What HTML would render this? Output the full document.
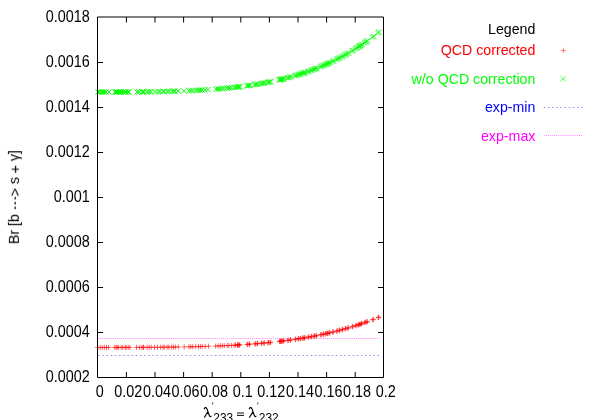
<!DOCTYPE html>
<html><head><meta charset="utf-8"><title>plot</title>
<style>
html,body{margin:0;padding:0;background:#fff;}
body{width:600px;height:420px;overflow:hidden;}
svg{display:block;}
text{font-family:"Liberation Sans",sans-serif;font-size:14.4px;fill:#000;}
.lg text{font-size:14.2px;}
</style></head><body>
<svg width="600" height="420" viewBox="0 0 600 420" style="will-change:transform">
<defs><filter id="f" x="0" y="0" width="600" height="420" filterUnits="userSpaceOnUse"><feOffset dx="0" dy="0"/></filter></defs>
<!-- exp lines -->
<line x1="98.2" y1="355.5" x2="379.5" y2="355.5" stroke="#0000ff" stroke-width="0.45" stroke-dasharray="1.45 2.72"/>
<line x1="98.2" y1="338.5" x2="379.5" y2="338.5" stroke="#ff00ff" stroke-width="0.5" stroke-dasharray="1 1.08"/>
<!-- data -->
<g stroke="#00ff00" stroke-width="0.65" fill="none"><path stroke-width="0.95" d="M95.40 89.45L100.60 94.65M95.40 94.65L100.60 89.45"/><path stroke-width="0.95" d="M97.40 89.45L102.60 94.65M97.40 94.65L102.60 89.45"/><path stroke-width="0.95" d="M99.40 89.45L104.60 94.65M99.40 94.65L104.60 89.45"/><path stroke-width="0.95" d="M101.40 89.45L106.60 94.65M101.40 94.65L106.60 89.45"/><path stroke-width="0.95" d="M103.40 89.44L108.60 94.64M103.40 94.64L108.60 89.44"/><path stroke-width="0.95" d="M106.40 89.44L111.60 94.64M106.40 94.64L111.60 89.44"/><path stroke-width="0.95" d="M112.40 89.42L117.60 94.62M112.40 94.62L117.60 89.42"/><path stroke-width="0.95" d="M113.40 89.42L118.60 94.62M113.40 94.62L118.60 89.42"/><path stroke-width="0.95" d="M114.40 89.41L119.60 94.61M114.40 94.61L119.60 89.41"/><path stroke-width="0.95" d="M116.40 89.41L121.60 94.61M116.40 94.61L121.60 89.41"/><path stroke-width="0.95" d="M118.40 89.40L123.60 94.60M118.40 94.60L123.60 89.40"/><path stroke-width="0.95" d="M120.40 89.39L125.60 94.59M120.40 94.59L125.60 89.39"/><path stroke-width="0.95" d="M122.40 89.37L127.60 94.57M122.40 94.57L127.60 89.37"/><path stroke-width="0.95" d="M123.40 89.37L128.60 94.57M123.40 94.57L128.60 89.37"/><path stroke-width="0.95" d="M125.40 89.36L130.60 94.56M125.40 94.56L130.60 89.36"/><path stroke-width="0.95" d="M126.40 89.35L131.60 94.55M126.40 94.55L131.60 89.35"/><path stroke-width="0.95" d="M134.40 89.28L139.60 94.48M134.40 94.48L139.60 89.28"/><path stroke-width="0.95" d="M136.40 89.26L141.60 94.46M136.40 94.46L141.60 89.26"/><path stroke-width="0.95" d="M139.40 89.23L144.60 94.43M139.40 94.43L144.60 89.23"/><path stroke-width="0.95" d="M140.40 89.22L145.60 94.42M140.40 94.42L145.60 89.22"/><path stroke-width="0.95" d="M141.40 89.21L146.60 94.41M141.40 94.41L146.60 89.21"/><path stroke-width="0.95" d="M144.40 89.17L149.60 94.37M144.40 94.37L149.60 89.17"/><path stroke-width="0.95" d="M146.40 89.14L151.60 94.34M146.40 94.34L151.60 89.14"/><path stroke-width="0.95" d="M148.40 89.11L153.60 94.31M148.40 94.31L153.60 89.11"/><path stroke-width="0.95" d="M152.40 89.05L157.60 94.25M152.40 94.25L157.60 89.05"/><path stroke-width="0.95" d="M155.40 89.00L160.60 94.20M155.40 94.20L160.60 89.00"/><path stroke-width="0.95" d="M157.40 88.96L162.60 94.16M157.40 94.16L162.60 88.96"/><path stroke-width="0.95" d="M160.40 88.90L165.60 94.10M160.40 94.10L165.60 88.90"/><path stroke-width="0.95" d="M161.40 88.87L166.60 94.07M161.40 94.07L166.60 88.87"/><path stroke-width="0.95" d="M164.40 88.80L169.60 94.00M164.40 94.00L169.60 88.80"/><path stroke-width="0.95" d="M166.40 88.75L171.60 93.95M166.40 93.95L171.60 88.75"/><path stroke-width="0.95" d="M169.40 88.67L174.60 93.87M169.40 93.87L174.60 88.67"/><path stroke-width="0.95" d="M171.40 88.62L176.60 93.82M171.40 93.82L176.60 88.62"/><path stroke-width="0.95" d="M172.40 88.59L177.60 93.79M172.40 93.79L177.60 88.59"/><path stroke-width="0.95" d="M175.40 88.49L180.60 93.69M175.40 93.69L180.60 88.49"/><path stroke-width="0.95" d="M181.40 88.28L186.60 93.48M181.40 93.48L186.60 88.28"/><path stroke-width="0.95" d="M186.40 88.08L191.60 93.28M186.40 93.28L191.60 88.08"/><path stroke-width="0.95" d="M188.40 88.00L193.60 93.20M188.40 93.20L193.60 88.00"/><path stroke-width="0.95" d="M190.40 87.90L195.60 93.10M190.40 93.10L195.60 87.90"/><path stroke-width="0.95" d="M193.40 87.76L198.60 92.96M193.40 92.96L198.60 87.76"/><path stroke-width="0.95" d="M195.40 87.65L200.60 92.85M195.40 92.85L200.60 87.65"/><path stroke-width="0.95" d="M197.40 87.55L202.60 92.75M197.40 92.75L202.60 87.55"/><path stroke-width="0.95" d="M199.40 87.43L204.60 92.63M199.40 92.63L204.60 87.43"/><path stroke-width="0.95" d="M202.40 87.26L207.60 92.46M202.40 92.46L207.60 87.26"/><path stroke-width="0.95" d="M205.40 87.06L210.60 92.26M205.40 92.26L210.60 87.06"/><path stroke-width="0.95" d="M213.40 86.49L218.60 91.69M213.40 91.69L218.60 86.49"/><path stroke-width="0.95" d="M215.40 86.33L220.60 91.53M215.40 91.53L220.60 86.33"/><path stroke-width="0.95" d="M217.40 86.17L222.60 91.37M217.40 91.37L222.60 86.17"/><path stroke-width="0.95" d="M219.40 86.00L224.60 91.20M219.40 91.20L224.60 86.00"/><path stroke-width="0.95" d="M221.40 85.82L226.60 91.02M221.40 91.02L226.60 85.82"/><path stroke-width="0.95" d="M224.40 85.53L229.60 90.73M224.40 90.73L229.60 85.53"/><path stroke-width="0.95" d="M226.40 85.34L231.60 90.54M226.40 90.54L231.60 85.34"/><path stroke-width="0.95" d="M228.40 85.13L233.60 90.33M228.40 90.33L233.60 85.13"/><path stroke-width="0.95" d="M231.40 84.81L236.60 90.01M231.40 90.01L236.60 84.81"/><path stroke-width="0.95" d="M233.40 84.58L238.60 89.78M233.40 89.78L238.60 84.58"/><path d="M234.55 84.45L239.75 89.65M234.55 89.65L239.75 84.45"/><path d="M235.40 84.35L240.60 89.55M235.40 89.55L240.60 84.35"/><path d="M236.25 84.25L241.45 89.45M236.25 89.45L241.45 84.25"/><path d="M236.05 84.27L241.25 89.47M236.05 89.47L241.25 84.27"/><path d="M236.90 84.17L242.10 89.37M236.90 89.37L242.10 84.17"/><path d="M237.75 84.06L242.95 89.26M237.75 89.26L242.95 84.06"/><path d="M243.95 83.25L249.15 88.45M243.95 88.45L249.15 83.25"/><path d="M244.80 83.13L250.00 88.33M244.80 88.33L250.00 83.13"/><path d="M245.65 83.01L250.85 88.21M245.65 88.21L250.85 83.01"/><path d="M246.05 82.95L251.25 88.15M246.05 88.15L251.25 82.95"/><path d="M246.90 82.83L252.10 88.03M246.90 88.03L252.10 82.83"/><path d="M247.75 82.71L252.95 87.91M247.75 87.91L252.95 82.71"/><path d="M251.85 82.08L257.05 87.28M251.85 87.28L257.05 82.08"/><path d="M252.70 81.94L257.90 87.14M252.70 87.14L257.90 81.94"/><path d="M253.55 81.80L258.75 87.00M253.55 87.00L258.75 81.80"/><path d="M253.95 81.74L259.15 86.94M253.95 86.94L259.15 81.74"/><path d="M254.80 81.60L260.00 86.80M254.80 86.80L260.00 81.60"/><path d="M255.65 81.46L260.85 86.66M255.65 86.66L260.85 81.46"/><path d="M258.15 81.03L263.35 86.23M258.15 86.23L263.35 81.03"/><path d="M259.00 80.87L264.20 86.07M259.00 86.07L264.20 80.87"/><path d="M259.85 80.72L265.05 85.92M259.85 85.92L265.05 80.72"/><path d="M260.65 80.58L265.85 85.78M260.65 85.78L265.85 80.58"/><path d="M261.50 80.42L266.70 85.62M261.50 85.62L266.70 80.42"/><path d="M262.35 80.26L267.55 85.46M262.35 85.46L267.55 80.26"/><path d="M264.80 79.79L270.00 84.99M264.80 84.99L270.00 79.79"/><path d="M265.65 79.62L270.85 84.82M265.65 84.82L270.85 79.62"/><path d="M266.50 79.45L271.70 84.65M266.50 84.65L271.70 79.45"/><path d="M266.85 79.38L272.05 84.58M266.85 84.58L272.05 79.38"/><path d="M267.70 79.21L272.90 84.41M267.70 84.41L272.90 79.21"/><path d="M268.55 79.03L273.75 84.23M268.55 84.23L273.75 79.03"/><path d="M276.45 77.29L281.65 82.49M276.45 82.49L281.65 77.29"/><path d="M277.30 77.09L282.50 82.29M277.30 82.29L282.50 77.09"/><path d="M278.15 76.89L283.35 82.09M278.15 82.09L283.35 76.89"/><path d="M277.15 77.13L282.35 82.33M277.15 82.33L282.35 77.13"/><path d="M278.00 76.92L283.20 82.12M278.00 82.12L283.20 76.92"/><path d="M278.85 76.72L284.05 81.92M278.85 81.92L284.05 76.72"/><path d="M278.55 76.79L283.75 81.99M278.55 81.99L283.75 76.79"/><path d="M279.40 76.59L284.60 81.79M279.40 81.79L284.60 76.59"/><path d="M280.25 76.38L285.45 81.58M280.25 81.58L285.45 76.38"/><path d="M280.05 76.43L285.25 81.63M280.05 81.63L285.25 76.43"/><path d="M280.90 76.21L286.10 81.41M280.90 81.41L286.10 76.21"/><path d="M281.75 76.00L286.95 81.20M281.75 81.20L286.95 76.00"/><path d="M284.55 75.28L289.75 80.48M284.55 80.48L289.75 75.28"/><path d="M285.40 75.05L290.60 80.25M285.40 80.25L290.60 75.05"/><path d="M286.25 74.82L291.45 80.02M286.25 80.02L291.45 74.82"/><path d="M287.05 74.61L292.25 79.81M287.05 79.81L292.25 74.61"/><path d="M287.90 74.37L293.10 79.57M287.90 79.57L293.10 74.37"/><path d="M288.75 74.14L293.95 79.34M288.75 79.34L293.95 74.14"/><path d="M292.05 73.19L297.25 78.39M292.05 78.39L297.25 73.19"/><path d="M292.90 72.94L298.10 78.14M292.90 78.14L298.10 72.94"/><path d="M293.75 72.69L298.95 77.89M293.75 77.89L298.95 72.69"/><path d="M294.95 72.32L300.15 77.52M294.95 77.52L300.15 72.32"/><path d="M295.80 72.06L301.00 77.26M295.80 77.26L301.00 72.06"/><path d="M296.65 71.80L301.85 77.00M296.65 77.00L301.85 71.80"/><path d="M297.05 71.67L302.25 76.87M297.05 76.87L302.25 71.67"/><path d="M297.90 71.41L303.10 76.61M297.90 76.61L303.10 71.41"/><path d="M298.75 71.13L303.95 76.33M298.75 76.33L303.95 71.13"/><path d="M299.55 70.88L304.75 76.08M299.55 76.08L304.75 70.88"/><path d="M300.40 70.60L305.60 75.80M300.40 75.80L305.60 70.60"/><path d="M301.25 70.32L306.45 75.52M301.25 75.52L306.45 70.32"/><path d="M301.25 70.32L306.45 75.52M301.25 75.52L306.45 70.32"/><path d="M302.10 70.03L307.30 75.23M302.10 75.23L307.30 70.03"/><path d="M302.95 69.75L308.15 74.95M302.95 74.95L308.15 69.75"/><path d="M304.95 69.06L310.15 74.26M304.95 74.26L310.15 69.06"/><path d="M305.80 68.76L311.00 73.96M305.80 73.96L311.00 68.76"/><path d="M306.65 68.46L311.85 73.66M306.65 73.66L311.85 68.46"/><path d="M307.85 68.02L313.05 73.22M307.85 73.22L313.05 68.02"/><path d="M308.70 67.71L313.90 72.91M308.70 72.91L313.90 67.71"/><path d="M309.55 67.40L314.75 72.60M309.55 72.60L314.75 67.40"/><path d="M310.80 66.93L316.00 72.13M310.80 72.13L316.00 66.93"/><path d="M311.65 66.61L316.85 71.81M311.65 71.81L316.85 66.61"/><path d="M312.50 66.29L317.70 71.49M312.50 71.49L317.70 66.29"/><path d="M312.85 66.15L318.05 71.35M312.85 71.35L318.05 66.15"/><path d="M313.70 65.82L318.90 71.02M313.70 71.02L318.90 65.82"/><path d="M314.55 65.49L319.75 70.69M314.55 70.69L319.75 65.49"/><path d="M317.45 64.32L322.65 69.52M317.45 69.52L322.65 64.32"/><path d="M318.30 63.97L323.50 69.17M318.30 69.17L323.50 63.97"/><path d="M319.15 63.61L324.35 68.81M319.15 68.81L324.35 63.61"/><path d="M319.95 63.28L325.15 68.48M319.95 68.48L325.15 63.28"/><path d="M320.80 62.91L326.00 68.11M320.80 68.11L326.00 62.91"/><path d="M321.65 62.55L326.85 67.75M321.65 67.75L326.85 62.55"/><path d="M322.45 62.20L327.65 67.40M322.45 67.40L327.65 62.20"/><path d="M323.30 61.83L328.50 67.03M323.30 67.03L328.50 61.83"/><path d="M324.15 61.45L329.35 66.65M324.15 66.65L329.35 61.45"/><path d="M324.15 61.45L329.35 66.65M324.15 66.65L329.35 61.45"/><path d="M325.00 61.07L330.20 66.27M325.00 66.27L330.20 61.07"/><path d="M325.85 60.69L331.05 65.89M325.85 65.89L331.05 60.69"/><path d="M326.05 60.60L331.25 65.80M326.05 65.80L331.25 60.60"/><path d="M326.90 60.21L332.10 65.41M326.90 65.41L332.10 60.21"/><path d="M327.75 59.81L332.95 65.01M327.75 65.01L332.95 59.81"/><path d="M329.55 58.96L334.75 64.16M329.55 64.16L334.75 58.96"/><path d="M330.40 58.56L335.60 63.76M330.40 63.76L335.60 58.56"/><path d="M331.25 58.15L336.45 63.35M331.25 63.35L336.45 58.15"/><path d="M333.55 57.01L338.75 62.21M333.55 62.21L338.75 57.01"/><path d="M334.40 56.59L339.60 61.79M334.40 61.79L339.60 56.59"/><path d="M335.25 56.16L340.45 61.36M335.25 61.36L340.45 56.16"/><path d="M336.05 55.75L341.25 60.95M336.05 60.95L341.25 55.75"/><path d="M336.90 55.31L342.10 60.51M336.90 60.51L342.10 55.31"/><path d="M337.75 54.87L342.95 60.07M337.75 60.07L342.95 54.87"/><path d="M339.05 54.18L344.25 59.38M339.05 59.38L344.25 54.18"/><path d="M339.90 53.72L345.10 58.92M339.90 58.92L345.10 53.72"/><path d="M340.75 53.26L345.95 58.46M340.75 58.46L345.95 53.26"/><path d="M342.05 52.55L347.25 57.75M342.05 57.75L347.25 52.55"/><path d="M342.90 52.08L348.10 57.28M342.90 57.28L348.10 52.08"/><path d="M343.75 51.61L348.95 56.81M343.75 56.81L348.95 51.61"/><path d="M344.55 51.16L349.75 56.36M344.55 56.36L349.75 51.16"/><path d="M345.40 50.67L350.60 55.87M345.40 55.87L350.60 50.67"/><path d="M346.25 50.18L351.45 55.38M346.25 55.38L351.45 50.18"/><path d="M349.05 48.54L354.25 53.74M349.05 53.74L354.25 48.54"/><path d="M349.90 48.03L355.10 53.23M349.90 53.23L355.10 48.03"/><path d="M350.75 47.52L355.95 52.72M350.75 52.72L355.95 47.52"/><path d="M352.55 46.41L357.75 51.61M352.55 51.61L357.75 46.41"/><path d="M353.40 45.88L358.60 51.08M353.40 51.08L358.60 45.88"/><path d="M354.25 45.35L359.45 50.55M354.25 50.55L359.45 45.35"/><path d="M355.05 44.84L360.25 50.04M355.05 50.04L360.25 44.84"/><path d="M355.90 44.29L361.10 49.49M355.90 49.49L361.10 44.29"/><path d="M356.75 43.74L361.95 48.94M356.75 48.94L361.95 43.74"/><path d="M356.55 43.87L361.75 49.07M356.55 49.07L361.75 43.87"/><path d="M357.40 43.32L362.60 48.52M357.40 48.52L362.60 43.32"/><path d="M358.25 42.76L363.45 47.96M358.25 47.96L363.45 42.76"/><path d="M358.05 42.89L363.25 48.09M358.05 48.09L363.25 42.89"/><path d="M358.90 42.33L364.10 47.53M358.90 47.53L364.10 42.33"/><path d="M359.75 41.76L364.95 46.96M359.75 46.96L364.95 41.76"/><path d="M361.55 40.55L366.75 45.75M361.55 45.75L366.75 40.55"/><path d="M362.40 39.96L367.60 45.16M362.40 45.16L367.60 39.96"/><path d="M363.25 39.37L368.45 44.57M363.25 44.57L368.45 39.37"/><path d="M363.55 39.16L368.75 44.36M363.55 44.36L368.75 39.16"/><path d="M364.40 38.57L369.60 43.77M364.40 43.77L369.60 38.57"/><path d="M365.25 37.96L370.45 43.16M365.25 43.16L370.45 37.96"/><path d="M369.55 34.84L374.75 40.04M369.55 40.04L374.75 34.84"/><path d="M370.40 34.20L375.60 39.40M370.40 39.40L375.60 34.20"/><path d="M371.25 33.56L376.45 38.76M371.25 38.76L376.45 33.56"/><path d="M375.05 30.62L380.25 35.82M375.05 35.82L380.25 30.62"/><path d="M375.90 29.95L381.10 35.15M375.90 35.15L381.10 29.95"/><path d="M376.75 29.27L381.95 34.47M376.75 34.47L381.95 29.27"/></g>
<g stroke="#ff0000" stroke-width="0.45" fill="none"><path d="M235.05 345.25H240.25M237.65 342.65V347.85"/><path d="M235.40 345.00H240.60M238.00 342.40V347.60"/><path d="M235.75 344.75H240.95M238.35 342.15V347.35"/><path d="M236.55 345.16H241.75M239.15 342.56V347.76"/><path d="M236.90 344.91H242.10M239.50 342.31V347.51"/><path d="M237.25 344.66H242.45M239.85 342.06V347.26"/><path d="M244.45 344.65H249.65M247.05 342.05V347.25"/><path d="M244.80 344.40H250.00M247.40 341.80V347.00"/><path d="M245.15 344.15H250.35M247.75 341.55V346.75"/><path d="M246.55 344.50H251.75M249.15 341.90V347.10"/><path d="M246.90 344.25H252.10M249.50 341.65V346.85"/><path d="M247.25 344.00H252.45M249.85 341.40V346.60"/><path d="M252.35 344.06H257.55M254.95 341.46V346.66"/><path d="M252.70 343.81H257.90M255.30 341.21V346.41"/><path d="M253.05 343.56H258.25M255.65 340.96V346.16"/><path d="M254.45 343.88H259.65M257.05 341.28V346.48"/><path d="M254.80 343.63H260.00M257.40 341.03V346.23"/><path d="M255.15 343.38H260.35M257.75 340.78V345.98"/><path d="M258.65 343.52H263.85M261.25 340.92V346.12"/><path d="M259.00 343.27H264.20M261.60 340.67V345.87"/><path d="M259.35 343.02H264.55M261.95 340.42V345.62"/><path d="M261.15 343.30H266.35M263.75 340.70V345.90"/><path d="M261.50 343.05H266.70M264.10 340.45V345.65"/><path d="M261.85 342.80H267.05M264.45 340.20V345.40"/><path d="M265.30 342.90H270.50M267.90 340.30V345.50"/><path d="M265.65 342.65H270.85M268.25 340.05V345.25"/><path d="M266.00 342.40H271.20M268.60 339.80V345.00"/><path d="M267.35 342.69H272.55M269.95 340.09V345.29"/><path d="M267.70 342.44H272.90M270.30 339.84V345.04"/><path d="M268.05 342.19H273.25M270.65 339.59V344.79"/><path d="M276.95 341.63H282.15M279.55 339.03V344.23"/><path d="M277.30 341.38H282.50M279.90 338.78V343.98"/><path d="M277.65 341.13H282.85M280.25 338.53V343.73"/><path d="M277.65 341.54H282.85M280.25 338.94V344.14"/><path d="M278.00 341.29H283.20M280.60 338.69V343.89"/><path d="M278.35 341.04H283.55M280.95 338.44V343.64"/><path d="M279.05 341.37H284.25M281.65 338.77V343.97"/><path d="M279.40 341.12H284.60M282.00 338.52V343.72"/><path d="M279.75 340.87H284.95M282.35 338.27V343.47"/><path d="M280.55 341.18H285.75M283.15 338.58V343.78"/><path d="M280.90 340.93H286.10M283.50 338.33V343.53"/><path d="M281.25 340.68H286.45M283.85 338.08V343.28"/><path d="M285.05 340.60H290.25M287.65 338.00V343.20"/><path d="M285.40 340.35H290.60M288.00 337.75V342.95"/><path d="M285.75 340.10H290.95M288.35 337.50V342.70"/><path d="M287.55 340.26H292.75M290.15 337.66V342.86"/><path d="M287.90 340.01H293.10M290.50 337.41V342.61"/><path d="M288.25 339.76H293.45M290.85 337.16V342.36"/><path d="M292.55 339.53H297.75M295.15 336.93V342.13"/><path d="M292.90 339.28H298.10M295.50 336.68V341.88"/><path d="M293.25 339.03H298.45M295.85 336.43V341.63"/><path d="M295.45 339.09H300.65M298.05 336.49V341.69"/><path d="M295.80 338.84H301.00M298.40 336.24V341.44"/><path d="M296.15 338.59H301.35M298.75 335.99V341.19"/><path d="M297.55 338.76H302.75M300.15 336.16V341.36"/><path d="M297.90 338.51H303.10M300.50 335.91V341.11"/><path d="M298.25 338.26H303.45M300.85 335.66V340.86"/><path d="M300.05 338.35H305.25M302.65 335.75V340.95"/><path d="M300.40 338.10H305.60M303.00 335.50V340.70"/><path d="M300.75 337.85H305.95M303.35 335.25V340.45"/><path d="M301.75 338.06H306.95M304.35 335.46V340.66"/><path d="M302.10 337.81H307.30M304.70 335.21V340.41"/><path d="M302.45 337.56H307.65M305.05 334.96V340.16"/><path d="M305.45 337.42H310.65M308.05 334.82V340.02"/><path d="M305.80 337.17H311.00M308.40 334.57V339.77"/><path d="M306.15 336.92H311.35M308.75 334.32V339.52"/><path d="M308.35 336.89H313.55M310.95 334.29V339.49"/><path d="M308.70 336.64H313.90M311.30 334.04V339.24"/><path d="M309.05 336.39H314.25M311.65 333.79V338.99"/><path d="M311.30 336.33H316.50M313.90 333.73V338.93"/><path d="M311.65 336.08H316.85M314.25 333.48V338.68"/><path d="M312.00 335.83H317.20M314.60 333.23V338.43"/><path d="M313.35 335.93H318.55M315.95 333.33V338.53"/><path d="M313.70 335.68H318.90M316.30 333.08V338.28"/><path d="M314.05 335.43H319.25M316.65 332.83V338.03"/><path d="M317.95 334.99H323.15M320.55 332.39V337.59"/><path d="M318.30 334.74H323.50M320.90 332.14V337.34"/><path d="M318.65 334.49H323.85M321.25 331.89V337.09"/><path d="M320.45 334.46H325.65M323.05 331.86V337.06"/><path d="M320.80 334.21H326.00M323.40 331.61V336.81"/><path d="M321.15 333.96H326.35M323.75 331.36V336.56"/><path d="M322.95 333.91H328.15M325.55 331.31V336.51"/><path d="M323.30 333.66H328.50M325.90 331.06V336.26"/><path d="M323.65 333.41H328.85M326.25 330.81V336.01"/><path d="M324.65 333.52H329.85M327.25 330.92V336.12"/><path d="M325.00 333.27H330.20M327.60 330.67V335.87"/><path d="M325.35 333.02H330.55M327.95 330.42V335.62"/><path d="M326.55 333.08H331.75M329.15 330.48V335.68"/><path d="M326.90 332.83H332.10M329.50 330.23V335.43"/><path d="M327.25 332.58H332.45M329.85 329.98V335.18"/><path d="M330.05 332.24H335.25M332.65 329.64V334.84"/><path d="M330.40 331.99H335.60M333.00 329.39V334.59"/><path d="M330.75 331.74H335.95M333.35 329.14V334.34"/><path d="M334.05 331.24H339.25M336.65 328.64V333.84"/><path d="M334.40 330.99H339.60M337.00 328.39V333.59"/><path d="M334.75 330.74H339.95M337.35 328.14V333.34"/><path d="M336.55 330.59H341.75M339.15 327.99V333.19"/><path d="M336.90 330.34H342.10M339.50 327.74V332.94"/><path d="M337.25 330.09H342.45M339.85 327.49V332.69"/><path d="M339.55 329.78H344.75M342.15 327.18V332.38"/><path d="M339.90 329.53H345.10M342.50 326.93V332.13"/><path d="M340.25 329.28H345.45M342.85 326.68V331.88"/><path d="M342.55 328.95H347.75M345.15 326.35V331.55"/><path d="M342.90 328.70H348.10M345.50 326.10V331.30"/><path d="M343.25 328.45H348.45M345.85 325.85V331.05"/><path d="M345.05 328.23H350.25M347.65 325.63V330.83"/><path d="M345.40 327.98H350.60M348.00 325.38V330.58"/><path d="M345.75 327.73H350.95M348.35 325.13V330.33"/><path d="M349.55 326.88H354.75M352.15 324.28V329.48"/><path d="M349.90 326.63H355.10M352.50 324.03V329.23"/><path d="M350.25 326.38H355.45M352.85 323.78V328.98"/><path d="M353.05 325.79H358.25M355.65 323.19V328.39"/><path d="M353.40 325.54H358.60M356.00 322.94V328.14"/><path d="M353.75 325.29H358.95M356.35 322.69V327.89"/><path d="M355.55 324.98H360.75M358.15 322.38V327.58"/><path d="M355.90 324.73H361.10M358.50 322.13V327.33"/><path d="M356.25 324.48H361.45M358.85 321.88V327.08"/><path d="M357.05 324.48H362.25M359.65 321.88V327.08"/><path d="M357.40 324.23H362.60M360.00 321.63V326.83"/><path d="M357.75 323.98H362.95M360.35 321.38V326.58"/><path d="M358.55 323.98H363.75M361.15 321.38V326.58"/><path d="M358.90 323.73H364.10M361.50 321.13V326.33"/><path d="M359.25 323.48H364.45M361.85 320.88V326.08"/><path d="M362.05 322.77H367.25M364.65 320.17V325.37"/><path d="M362.40 322.52H367.60M365.00 319.92V325.12"/><path d="M362.75 322.27H367.95M365.35 319.67V324.87"/><path d="M364.05 322.06H369.25M366.65 319.46V324.66"/><path d="M364.40 321.81H369.60M367.00 319.21V324.41"/><path d="M364.75 321.56H369.95M367.35 318.96V324.16"/><path d="M370.05 319.83H375.25M372.65 317.23V322.43"/><path d="M370.40 319.58H375.60M373.00 316.98V322.18"/><path d="M370.75 319.33H375.95M373.35 316.73V321.93"/><path d="M375.55 317.66H380.75M378.15 315.06V320.26"/><path d="M375.90 317.41H381.10M378.50 314.81V320.01"/><path d="M376.25 317.16H381.45M378.85 314.56V319.76"/><path stroke-width="0.6" d="M95.15 347.45H100.35M97.75 344.85V350.05"/><path stroke-width="0.6" d="M97.65 347.45H102.85M100.25 344.85V350.05"/><path stroke-width="0.6" d="M99.73 347.45H104.92M102.33 344.85V350.05"/><path stroke-width="0.6" d="M101.80 347.45H107.00M104.40 344.85V350.05"/><path stroke-width="0.6" d="M103.90 347.45H109.10M106.50 344.85V350.05"/><path stroke-width="0.6" d="M106.00 347.45H111.20M108.60 344.85V350.05"/><path stroke-width="0.6" d="M112.20 347.44H117.40M114.80 344.84V350.04"/><path stroke-width="0.6" d="M113.50 347.44H118.70M116.10 344.84V350.04"/><path stroke-width="0.6" d="M114.70 347.43H119.90M117.30 344.83V350.03"/><path stroke-width="0.6" d="M116.00 347.43H121.20M118.60 344.83V350.03"/><path stroke-width="0.6" d="M118.50 347.43H123.70M121.10 344.83V350.03"/><path stroke-width="0.6" d="M120.15 347.42H125.35M122.75 344.82V350.02"/><path stroke-width="0.6" d="M122.65 347.42H127.85M125.25 344.82V350.02"/><path stroke-width="0.6" d="M123.50 347.42H128.70M126.10 344.82V350.02"/><path stroke-width="0.6" d="M125.60 347.41H130.80M128.20 344.81V350.01"/><path stroke-width="0.6" d="M127.20 347.41H132.40M129.80 344.81V350.01"/><path stroke-width="0.6" d="M133.90 347.38H139.10M136.50 344.78V349.98"/><path stroke-width="0.6" d="M136.80 347.37H142.00M139.40 344.77V349.97"/><path stroke-width="0.6" d="M139.30 347.36H144.50M141.90 344.76V349.96"/><path stroke-width="0.6" d="M140.60 347.35H145.80M143.20 344.75V349.95"/><path stroke-width="0.6" d="M141.15 347.35H146.35M143.75 344.75V349.95"/><path stroke-width="0.6" d="M144.50 347.33H149.70M147.10 344.73V349.93"/><path stroke-width="0.6" d="M146.58 347.32H151.78M149.18 344.72V349.92"/><path stroke-width="0.6" d="M148.65 347.30H153.85M151.25 344.70V349.90"/><path stroke-width="0.6" d="M152.00 347.28H157.20M154.60 344.68V349.88"/><path stroke-width="0.6" d="M154.90 347.26H160.10M157.50 344.66V349.86"/><path stroke-width="0.6" d="M157.80 347.23H163.00M160.40 344.63V349.83"/><path stroke-width="0.6" d="M160.30 347.21H165.50M162.90 344.61V349.81"/><path stroke-width="0.6" d="M161.60 347.19H166.80M164.20 344.59V349.79"/><path stroke-width="0.6" d="M164.50 347.16H169.70M167.10 344.56V349.76"/><path stroke-width="0.6" d="M166.15 347.14H171.35M168.75 344.54V349.74"/><path stroke-width="0.6" d="M169.10 347.11H174.30M171.70 344.51V349.71"/><path stroke-width="0.6" d="M170.95 347.08H176.15M173.55 344.48V349.68"/><path stroke-width="0.6" d="M172.80 347.06H178.00M175.40 344.46V349.66"/><path stroke-width="0.6" d="M175.70 347.01H180.90M178.30 344.41V349.61"/><path stroke-width="0.6" d="M181.60 346.92H186.80M184.20 344.32V349.52"/><path stroke-width="0.6" d="M186.30 346.83H191.50M188.90 344.23V349.43"/><path stroke-width="0.6" d="M188.20 346.79H193.40M190.80 344.19V349.39"/><path stroke-width="0.6" d="M190.10 346.75H195.30M192.70 344.15V349.35"/><path stroke-width="0.6" d="M193.00 346.68H198.20M195.60 344.08V349.28"/><path stroke-width="0.6" d="M195.90 346.61H201.10M198.50 344.01V349.21"/><path stroke-width="0.6" d="M197.78 346.56H202.97M200.38 343.96V349.16"/><path stroke-width="0.6" d="M199.65 346.51H204.85M202.25 343.91V349.11"/><path stroke-width="0.6" d="M202.60 346.42H207.80M205.20 343.82V349.02"/><path stroke-width="0.6" d="M205.90 346.32H211.10M208.50 343.72V348.92"/><path stroke-width="0.6" d="M213.00 346.07H218.20M215.60 343.47V348.67"/><path stroke-width="0.6" d="M215.50 345.97H220.70M218.10 343.37V348.57"/><path stroke-width="0.6" d="M217.60 345.89H222.80M220.20 343.29V348.49"/><path stroke-width="0.6" d="M219.65 345.80H224.85M222.25 343.20V348.40"/><path stroke-width="0.6" d="M221.70 345.71H226.90M224.30 343.11V348.31"/><path stroke-width="0.6" d="M224.65 345.57H229.85M227.25 342.97V348.17"/><path stroke-width="0.6" d="M226.30 345.49H231.50M228.90 342.89V348.09"/><path stroke-width="0.6" d="M228.80 345.37H234.00M231.40 342.77V347.97"/><path stroke-width="0.6" d="M231.70 345.21H236.90M234.30 342.61V347.81"/><path stroke-width="0.6" d="M232.90 345.15H238.10M235.50 342.55V347.75"/><path stroke-width="0.6" d="M234.90 345.03H240.10M237.50 342.43V347.63"/></g>
<!-- axes -->
<path d="M126.40 377.5V372.0M126.40 17.0V22.5M155.00 377.5V372.0M155.00 17.0V22.5M183.60 377.5V372.0M183.60 17.0V22.5M212.20 377.5V372.0M212.20 17.0V22.5M240.80 377.5V372.0M240.80 17.0V22.5M269.40 377.5V372.0M269.40 17.0V22.5M298.00 377.5V372.0M298.00 17.0V22.5M326.60 377.5V372.0M326.60 17.0V22.5M355.20 377.5V372.0M355.20 17.0V22.5M97.5 62.50H103.0M383.5 62.50H378.0M97.5 107.50H103.0M383.5 107.50H378.0M97.5 152.50H103.0M383.5 152.50H378.0M97.5 197.50H103.0M383.5 197.50H378.0M97.5 242.50H103.0M383.5 242.50H378.0M97.5 287.50H103.0M383.5 287.50H378.0M97.5 332.50H103.0M383.5 332.50H378.0" stroke="#000" stroke-width="1" fill="none"/>
<path d="M97.5 17.0H383.5V377.5H97.5Z" stroke="#000" stroke-width="1" fill="none"/>
<g filter="url(#f)">
<g><text transform="translate(89.7 21.95) scale(1 1.10)" text-anchor="end">0.0018</text><text transform="translate(89.7 67.01) scale(1 1.10)" text-anchor="end">0.0016</text><text transform="translate(89.7 112.08) scale(1 1.10)" text-anchor="end">0.0014</text><text transform="translate(89.7 157.14) scale(1 1.10)" text-anchor="end">0.0012</text><text transform="translate(89.7 202.20) scale(1 1.10)" text-anchor="end">0.001</text><text transform="translate(89.7 247.26) scale(1 1.10)" text-anchor="end">0.0008</text><text transform="translate(89.7 292.32) scale(1 1.10)" text-anchor="end">0.0006</text><text transform="translate(89.7 337.39) scale(1 1.10)" text-anchor="end">0.0004</text><text transform="translate(89.7 382.45) scale(1 1.10)" text-anchor="end">0.0002</text></g>
<g><text transform="translate(99.70 396.8) scale(1 1.10)" text-anchor="middle">0</text><text transform="translate(128.30 396.8) scale(1 1.10)" text-anchor="middle">0.02</text><text transform="translate(156.90 396.8) scale(1 1.10)" text-anchor="middle">0.04</text><text transform="translate(185.50 396.8) scale(1 1.10)" text-anchor="middle">0.06</text><text transform="translate(214.10 396.8) scale(1 1.10)" text-anchor="middle">0.08</text><text transform="translate(242.70 396.8) scale(1 1.10)" text-anchor="middle">0.1</text><text transform="translate(271.30 396.8) scale(1 1.10)" text-anchor="middle">0.12</text><text transform="translate(299.90 396.8) scale(1 1.10)" text-anchor="middle">0.14</text><text transform="translate(328.50 396.8) scale(1 1.10)" text-anchor="middle">0.16</text><text transform="translate(357.10 396.8) scale(1 1.10)" text-anchor="middle">0.18</text><text transform="translate(385.70 396.8) scale(1 1.10)" text-anchor="middle">0.2</text></g>
<text transform="translate(18.9 197.2) rotate(-90)" text-anchor="middle" style="letter-spacing:-0.12px">Br [b <tspan fill="none">---</tspan><tspan dy="1.3">&gt;</tspan><tspan dy="-1.3"> s </tspan><tspan dy="1.3">+</tspan><tspan dy="-1.3"> γ]</tspan></text>
<!-- x label -->
<text x="213.3" y="422.4" style="font-size:11.9px">233</text>
<text x="258.8" y="422.4" style="font-size:11.9px">232</text>
<!-- legend -->
<g class="lg"><text x="535.4" y="34" text-anchor="end">Legend</text>
<text x="535.4" y="55" text-anchor="end" style="fill:#ff0000">QCD corrected</text>
<text x="535.4" y="83.5" text-anchor="end" style="fill:#00ff00">w/o QCD correction</text>
<text x="535.4" y="111.7" text-anchor="end" style="fill:#0000ff">exp-min</text>
<text x="535.4" y="140.8" text-anchor="end" style="fill:#ff00ff">exp-max</text></g>
</g>
<path d="M560.8 50.5H566M563.4 47.9V53.1" stroke="#ff0000" stroke-width="0.5" fill="none"/>
<path d="M560.6 76.3L565.8 81.5M560.6 81.5L565.8 76.3" stroke="#00ff00" stroke-width="0.7" fill="none"/>
<path d="M212.6 402.3V404.6M257.8 402.3V404.6" stroke="#000" stroke-width="0.7" fill="none"/>
<path d="M15.15 196.7V199.6M15.15 201.7V204.6M15.15 206.6V209.3" stroke="#1a1a1a" stroke-width="1.25" fill="none"/>
<path d="M204.3 408.8C204.7 407.6 205.8 407.2 206.5 408C207.3 409.1 208.2 412.5 209.2 415.3C209.7 416.7 210.5 417 211 416.2M207.9 411.9L204.5 417.2" stroke="#000" stroke-width="1.15" fill="none" stroke-linecap="round" stroke-linejoin="round"/>
<path transform="translate(45.05 0)" d="M204.3 408.8C204.7 407.6 205.8 407.2 206.5 408C207.3 409.1 208.2 412.5 209.2 415.3C209.7 416.7 210.5 417 211 416.2M207.9 411.9L204.5 417.2" stroke="#000" stroke-width="1.15" fill="none" stroke-linecap="round" stroke-linejoin="round"/>
<path d="M237 413H244M237 415.4H244" stroke="#000" stroke-width="0.95" fill="none"/>
<line x1="543.7" y1="107.5" x2="582.8" y2="107.5" stroke="#0000ff" stroke-width="0.45" stroke-dasharray="1.45 2.72"/>
<line x1="543.7" y1="135.5" x2="582.8" y2="135.5" stroke="#ff00ff" stroke-width="0.5" stroke-dasharray="1 1.08"/>
</svg>
</body></html>
